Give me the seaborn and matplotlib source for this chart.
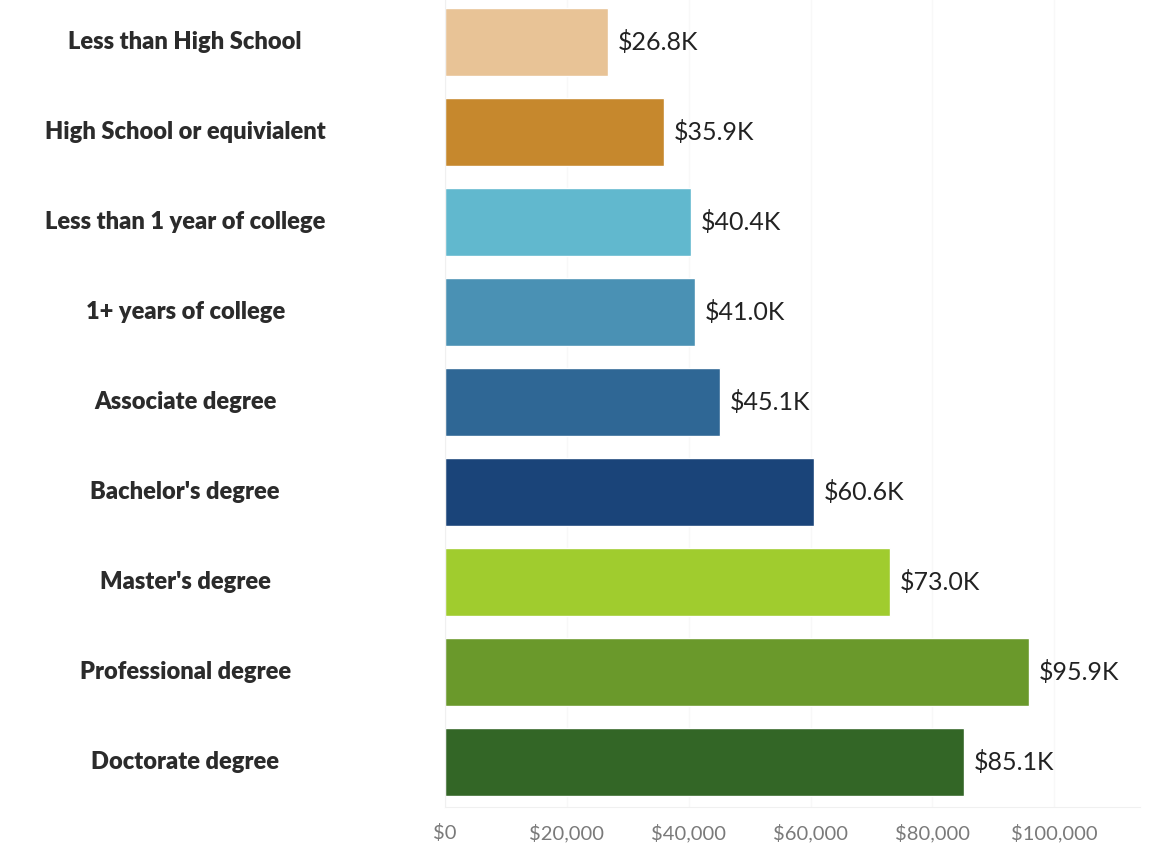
import matplotlib
matplotlib.use("Agg")
import matplotlib.pyplot as plt
import matplotlib.transforms as mtransforms
from matplotlib.ticker import FuncFormatter
import pandas as pd
import seaborn as sns

# data
categories = [
    "Less than High School",
    "High School or equivialent",
    "Less than 1 year of college",
    "1+ years of college",
    "Associate degree",
    "Bachelor's degree",
    "Master's degree",
    "Professional degree",
    "Doctorate degree",
]
earnings = [26800, 35900, 40400, 41000, 45100, 60600, 73000, 95900, 85100]
value_labels = ["$26.8K", "$35.9K", "$40.4K", "$41.0K", "$45.1K",
                "$60.6K", "$73.0K", "$95.9K", "$85.1K"]
colors = ["#E8C396", "#C6882D", "#61B8CE", "#4A91B4", "#2F6795",
          "#1A4479", "#A0CC2E", "#6A992B", "#336626"]
x_ticks = [0, 20000, 40000, 60000, 80000, 100000]

df = pd.DataFrame({"education": categories, "earnings": earnings})

sns.set_style("white")
plt.rcParams["font.family"] = ["Lato", "DejaVu Sans"]

fig = plt.figure(figsize=(11.5, 8.47), dpi=100)
ax = fig.add_axes([0.387, 0.0472, 0.604, 0.9563])

sns.barplot(data=df, y="education", x="earnings", hue="education",
            palette=colors, legend=False, width=0.76, saturation=1,
            orient="h", ax=ax)

# value labels at bar ends
for cont, lab in zip(ax.containers, value_labels):
    ax.bar_label(cont, labels=[lab], padding=7, fontsize=18, color="#222222")

ax.set_xlim(0, 114000)
ax.set_xticks(x_ticks)
ax.xaxis.set_major_formatter(FuncFormatter(lambda v, p: f"${v:,.0f}"))
ax.tick_params(axis="x", labelsize=14.5, colors="#7a7a7a", length=0, pad=12)
ax.grid(axis="x", color="#F8F8F8", linewidth=1)
ax.set_axisbelow(True)

# category labels centred in the left margin
ax.set_yticklabels([])
ax.tick_params(axis="y", length=0)
trans = mtransforms.blended_transform_factory(fig.transFigure, ax.transData)
for i, name in enumerate(categories):
    ax.text(0.161, i, name, transform=trans, ha="center", va="center",
            fontsize=17, fontweight="heavy", color="#2b2b2b")

ax.set_xlabel("")
ax.set_ylabel("")
for side in ["top", "right"]:
    ax.spines[side].set_visible(False)
ax.spines["left"].set_color("#F0F0F0")
ax.spines["bottom"].set_color("#F0F0F0")

fig.savefig("out.png", dpi=100)
